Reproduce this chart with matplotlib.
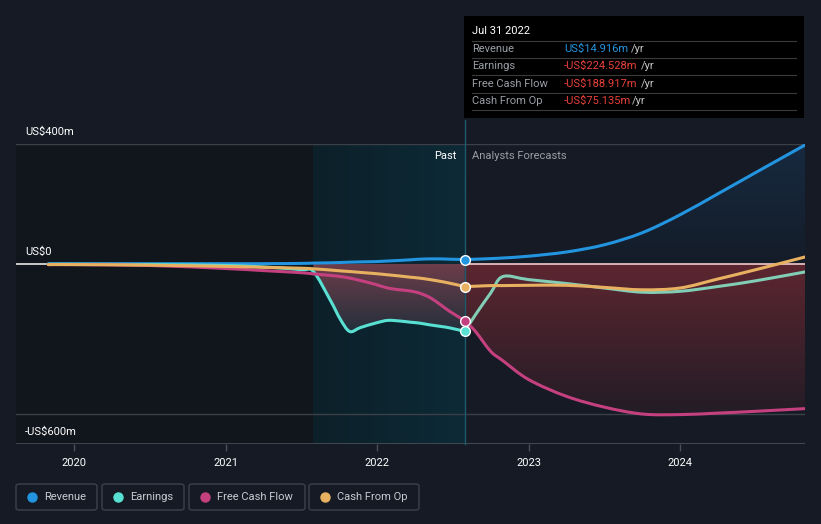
import matplotlib
matplotlib.use("Agg")
import matplotlib.pyplot as plt
import numpy as np
from matplotlib.patches import FancyBboxPatch, Rectangle, PathPatch
from matplotlib.path import Path

plt.rcParams['font.family'] = ['Roboto', 'DejaVu Sans']

# data (US$m), x in decimal years
past_x = [2019.83, 2020.0, 2020.5, 2021.0, 2021.25, 2021.5, 2021.58, 2021.69, 2021.76, 2021.82,
          2021.89, 2021.99, 2022.07, 2022.15, 2022.22, 2022.28, 2022.35, 2022.42, 2022.48, 2022.58]
past_revenue = [1, 1, 1, 1, 1, 2, 3, 4, 5, 6, 7, 8, 10, 12, 14, 16, 17, 17, 16, 14.916]
past_earnings = [-1, -1, -2, -5, -10, -19, -25, -119, -186, -225, -212, -197, -188, -190, -194, -197, -203, -208, -213, -224.528]
past_fcf = [-2, -2, -5, -15, -22, -29, -33, -38, -42, -47, -55, -68, -80, -86, -90, -97, -112, -136, -158, -188.917]
past_cfo = [-2, -2, -4, -8, -11, -14, -16, -20, -23, -25, -28, -32, -36, -40, -44, -47, -52, -58, -64, -75.135]

fc_x = [2022.58, 2022.65, 2022.75, 2022.83, 2023.0, 2023.25, 2023.5, 2023.75, 2024.0, 2024.25, 2024.5, 2024.83]
fc_revenue = [14.916, 16, 18, 20, 26, 40, 64, 104, 164, 234, 305, 398]
fc_earnings = [-224.528, -169, -97, -42, -52, -65, -80, -94, -91, -75, -56, -26]
fc_fcf = [-188.917, -225, -291, -322, -385, -441, -477, -500, -502, -497, -491, -482]
fc_cfo = [-75.135, -74, -72, -72, -71, -71, -78, -86, -80, -50, -19, 24]

years = [2020, 2021, 2022, 2023, 2024]
names = ["Revenue", "Earnings", "Free Cash Flow", "Cash From Op"]
colors = ["#2394df", "#58e1d2", "#c4407f", "#e8b161"]
fc_colors = ["#2394df", "#82cdb5", "#c4407f", "#e8b161"]
tip_values = ["US$14.916m", "-US$224.528m", "-US$188.917m", "-US$75.135m"]

W, H = 821, 524
BG = "#151a24"


def fx(x):
    return x / W


def fy(y):
    return 1 - y / H


def smooth(xs, ys):
    # catmull-rom through the points, drawn as cubic bezier segments
    p = np.column_stack([xs, ys]).astype(float)
    n = len(p)
    verts = [p[0]]
    codes = [Path.MOVETO]
    for i in range(n - 1):
        p0, p1, p2, p3 = p[max(i - 1, 0)], p[i], p[i + 1], p[min(i + 2, n - 1)]
        c1 = p1 + (p2 - p0) / 6
        c2 = p2 - (p3 - p1) / 6
        c1[0] = np.clip(c1[0], p1[0], p2[0])
        c2[0] = np.clip(c2[0], p1[0], p2[0])
        verts += [c1, c2, p2]
        codes += [Path.CURVE4] * 3
    return verts, codes


fig = plt.figure(figsize=(W / 100, H / 100), dpi=100, facecolor=BG)
ax = fig.add_axes([fx(16), fy(444), (805 - 16) / W, 300 / H])
ax.set_facecolor(BG)
x0 = 2020 + (16 - 74) / 151.5
x1 = 2020 + (805 - 74) / 151.5
ax.set_xlim(x0, x1)
ax.set_ylim(-600, 400)
for s in ax.spines.values():
    s.set_visible(False)

split = past_x[-1]
hl_start = 2021.58

# background regions
ax.axvspan(x0, hl_start, color="#11151c", zorder=0, lw=0)
grad = np.linspace(0, 1, 100).reshape(1, -1)
ax.imshow(grad, extent=[hl_start, split, -600, 400], aspect="auto",
          cmap=matplotlib.colors.LinearSegmentedColormap.from_list("hl", ["#0c2029", "#0c2a36"]),
          zorder=0.5)

# grid lines
for v in [400, -500]:
    ax.axhline(v, color="#3a3f48", lw=1, zorder=1)
ax.axhline(-600, color="#4a4f58", lw=1.2, zorder=1)


def grad_fill(xs, ys, c_top, c_bot):
    verts, codes = smooth(xs, ys)
    verts = verts + [(xs[-1], 0), (xs[0], 0), (xs[0], ys[0])]
    codes = codes + [Path.LINETO, Path.LINETO, Path.CLOSEPOLY]
    clip = PathPatch(Path(verts, codes), transform=ax.transData, facecolor="none", lw=0)
    ax.add_patch(clip)
    g = np.linspace(1, 0, 200).reshape(-1, 1)
    cm = matplotlib.colors.LinearSegmentedColormap.from_list("g", [c_bot, c_top])
    lo, hi = min(0, min(ys)), max(0, max(ys))
    im = ax.imshow(g, extent=[xs[0], xs[-1], lo, hi], aspect="auto", cmap=cm,
                   origin="upper", zorder=1.5)
    im.set_clip_path(clip)


# fills
px = np.array(past_x)
hl = px >= hl_start
grad_fill(px[hl], np.array(past_earnings)[hl], "#6e3d4a", "#24303c")
grad_fill(np.array(fc_x), np.array(fc_fcf), "#5c2630", "#231c26")
grad_fill(np.array(fc_x), np.array(fc_revenue), "#172a40", "#141c28")

# zero line
ax.plot([x0, past_x[0]], [0, 0], color="#e8e8e8", lw=1.2, zorder=2)
ax.plot([split, x1], [0, 0], color="#f2caca", lw=1.2, zorder=2)

# lines
past_series = [past_revenue, past_earnings, past_fcf, past_cfo]
fc_series = [fc_revenue, fc_earnings, fc_fcf, fc_cfo]
for i in range(4):
    for xs, ys, c in [(past_x, past_series[i], colors[i]), (fc_x, fc_series[i], fc_colors[i])]:
        v, c_ = smooth(xs, ys)
        ax.add_patch(PathPatch(Path(v, c_), facecolor="none", edgecolor=c, lw=2.2,
                               capstyle="round", zorder=3))
for i in range(4):
    ax.plot([split], [past_series[i][-1]], "o", ms=7, mfc=colors[i], mec="white", mew=1, zorder=5)

# vertical split line
ax.plot([split, split], [-600, 480], color="#1e5a6e", lw=1, zorder=2.5, clip_on=False)

# ticks
ax.set_yticks([])
ax.set_xticks(years)
ax.set_xticklabels([str(y) for y in years])
ax.tick_params(axis="x", colors="#4a4f58", length=5, width=1, pad=5, labelcolor="white", labelsize=8)

# y labels
fig.text(fx(25), fy(132), "US$400m", color="white", fontsize=8, va="center")
fig.text(fx(25), fy(252), "US$0", color="white", fontsize=8, va="center")
fig.text(fx(25), fy(432), "-US$600m", color="white", fontsize=8, va="center")

fig.text(fx(456), fy(156), "Past", color="white", fontsize=8, va="center", ha="right")
fig.text(fx(472), fy(156), "Analysts Forecasts", color="#9a9ea6", fontsize=8, va="center")

# tooltip
fig.patches.append(Rectangle((fx(464), fy(118)), 340 / W, 102 / H, transform=fig.transFigure,
                             facecolor="black", edgecolor="none", zorder=10))
fig.text(fx(472), fy(31), "Jul 31 2022", color="white", fontsize=8, va="center", zorder=11)
row_y = [49, 66, 84, 101]
sep_y = [41, 58, 75, 93, 110]
for y in sep_y:
    fig.add_artist(plt.Line2D([fx(472), fx(796)], [fy(y), fy(y)], color="#3a3a3a", lw=0.8, zorder=11))
yr_x = [631, 641, 641, 632]
for i in range(4):
    fig.text(fx(472), fy(row_y[i]), names[i], color="#9a9ea6", fontsize=8, va="center", zorder=11)
    fig.text(fx(564), fy(row_y[i]), tip_values[i], color="#2394df" if i == 0 else "#e8413c",
             fontsize=8, va="center", zorder=11)
    fig.text(fx(yr_x[i]), fy(row_y[i]), "/yr", color="#c8c8c8", fontsize=8, va="center", zorder=11)

# legend boxes
box_l = [16, 102, 189, 309]
box_r = [97, 184, 305, 419]
for i in range(4):
    fig.patches.append(FancyBboxPatch((fx(box_l[i]), fy(510)), (box_r[i] - box_l[i]) / W, 26 / H,
                                      boxstyle="round,pad=0,rounding_size=0.004", transform=fig.transFigure,
                                      facecolor=BG, edgecolor="#3c414c", lw=1))
    fig.add_artist(plt.Line2D([fx(box_l[i] + 15.5)], [fy(496.5)], marker="o", ms=6.5, color=colors[i],
                              transform=fig.transFigure))
    fig.text(fx(box_l[i] + 28), fy(496.5), names[i], color="#c8ccd2", fontsize=8, va="center")

fig.savefig("out.png", dpi=100, facecolor=BG)
